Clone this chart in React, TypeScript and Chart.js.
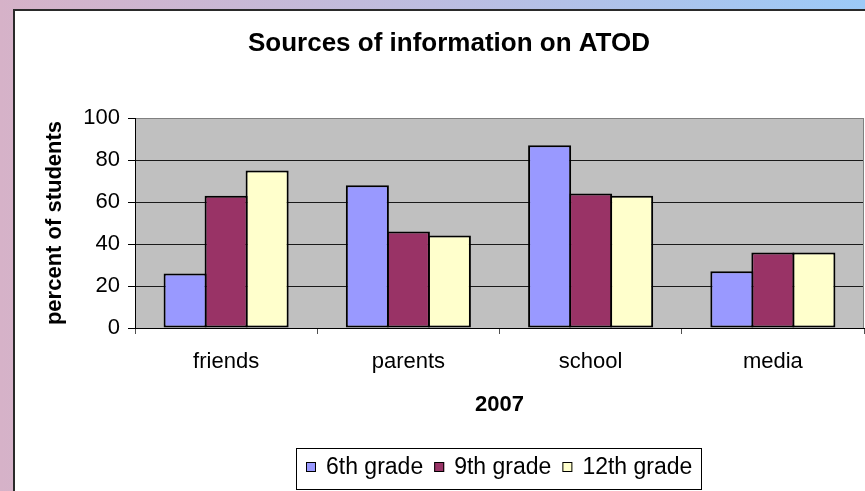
import React, { useEffect, useRef } from 'react';
import { Chart, registerables } from 'chart.js';

Chart.register(...registerables);

// Survey results: share of students naming each source of ATOD information
const categories = ['friends', 'parents', 'school', 'media'];
const grade6 = [26, 68, 87, 27];
const grade9 = [63, 46, 64, 36];
const grade12 = [75, 44, 63, 36];
const seriesLabels = ['6th grade', '9th grade', '12th grade'];
const seriesColors = ['#9999FF', '#993366', '#FFFFCC'];
const yTickStep = 20;
const yMax = 100;

const chartTitle = 'Sources of information on ATOD';
const yAxisTitle = 'percent of students';
const xAxisTitle = '2007';

const W = 865;
const H = 491;
const FONT = '"Liberation Sans", Arial, Helvetica, sans-serif';

// Slide backdrop, white chart frame, grey plot area, title and boxed legend
const framePlugin = {
  id: 'frame',
  beforeDraw(chart: any) {
    const { ctx, chartArea: a } = chart;
    ctx.save();
    const g = ctx.createLinearGradient(0, 0, W, 0);
    g.addColorStop(0, '#d6b2c8');
    g.addColorStop(0.5, '#bdbde0');
    g.addColorStop(1, '#9ccaf7');
    ctx.fillStyle = g;
    ctx.fillRect(0, 0, W, H);

    ctx.fillStyle = '#ffffff';
    ctx.fillRect(14, 10, W, H);
    ctx.strokeStyle = '#2a2a2a';
    ctx.lineWidth = 2;
    ctx.beginPath();
    ctx.moveTo(14, H + 5);
    ctx.lineTo(14, 10);
    ctx.lineTo(W + 5, 10);
    ctx.stroke();

    ctx.fillStyle = '#C0C0C0';
    ctx.fillRect(a.left, a.top, a.right - a.left, a.bottom - a.top);
    ctx.restore();
  },
  afterDraw(chart: any) {
    const { ctx, chartArea: a } = chart;
    ctx.save();

    // plot area right edge
    ctx.strokeStyle = '#808080';
    ctx.lineWidth = 1;
    ctx.beginPath();
    ctx.moveTo(a.right - 0.5, a.top);
    ctx.lineTo(a.right - 0.5, a.bottom);
    ctx.stroke();

    // chart title
    ctx.fillStyle = '#000';
    ctx.font = `bold 26px ${FONT}`;
    ctx.textAlign = 'center';
    ctx.textBaseline = 'middle';
    ctx.fillText(chartTitle, 449, 44);

    // legend
    const datasets = chart.data.datasets;
    ctx.font = `23px ${FONT}`;
    ctx.textAlign = 'left';
    const sq = 10;
    const gapText = 10;
    const gapItem = 11;
    const widths = datasets.map((d: any) => ctx.measureText(d.label).width);
    const total =
      widths.reduce((s: number, w: number) => s + w, 0) +
      datasets.length * (sq + gapText) +
      (datasets.length - 1) * gapItem;
    const cx = (a.left + a.right) / 2;
    let x = Math.round(cx - total / 2);
    const cy = 467;

    ctx.strokeStyle = '#000';
    ctx.lineWidth = 1;
    ctx.strokeRect(x - 9.5, 448.5, Math.round(total + 19), 41);

    datasets.forEach((d: any, i: number) => {
      ctx.fillStyle = d.backgroundColor;
      ctx.fillRect(x, cy - sq / 2, sq, sq);
      ctx.strokeStyle = '#000';
      ctx.strokeRect(x + 0.5, cy - sq / 2 + 0.5, sq - 1, sq - 1);
      ctx.fillStyle = '#000';
      ctx.fillText(d.label, x + sq + gapText, cy + 1);
      x += sq + gapText + widths[i] + gapItem;
    });
    ctx.restore();
  },
};

export default function App() {
  const ref = useRef<HTMLCanvasElement>(null);

  useEffect(() => {
    const series = [grade6, grade9, grade12];
    const chart = new Chart(ref.current as HTMLCanvasElement, {
      type: 'bar',
      data: {
        labels: categories,
        datasets: series.map((data, i) => ({
          label: seriesLabels[i],
          data,
          backgroundColor: seriesColors[i],
          borderColor: '#000',
          borderWidth: 2,
          borderSkipped: false,
          barPercentage: 1.05,
          categoryPercentage: 0.675,
        })),
      },
      options: {
        responsive: false,
        animation: false,
        layout: { padding: { top: 118, right: 1, left: 0, bottom: 0 } },
        plugins: {
          legend: { display: false },
          title: { display: false },
          tooltip: { enabled: false },
        },
        scales: {
          x: {
            grid: {
              display: true,
              drawOnChartArea: false,
              drawTicks: true,
              tickLength: 6,
              color: '#505050',
              offset: true,
            },
            border: { display: true, color: '#000', width: 1 },
            ticks: {
              font: { family: FONT, size: 22 },
              color: '#000',
              padding: 15,
              maxRotation: 0,
            },
            title: {
              display: true,
              text: xAxisTitle,
              font: { family: FONT, size: 22, weight: 'bold' },
              color: '#000',
              padding: { top: 0, bottom: 73 },
            },
            afterFit(scale: any) {
              scale.height = 163;
            },
          },
          y: {
            min: 0,
            max: yMax,
            ticks: {
              stepSize: yTickStep,
              font: { family: FONT, size: 22 },
              color: '#000',
              padding: 8,
            },
            grid: {
              color: (c: any) => (c.tick && c.tick.value === yMax ? '#808080' : '#1a1a1a'),
              tickColor: '#000',
              tickLength: 7,
              lineWidth: 1,
            },
            border: { display: true, color: '#000', width: 1 },
            title: {
              display: true,
              text: yAxisTitle,
              font: { family: FONT, size: 22, weight: 'bold' },
              color: '#000',
              padding: { top: 42, bottom: 0 },
            },
            afterFit(scale: any) {
              scale.width = 135;
            },
          },
        },
      } as any,
      plugins: [framePlugin],
    });
    return () => chart.destroy();
  }, []);

  return (
    <div style={{ position: 'absolute', left: 0, top: 0, width: W, height: H }}>
      <canvas ref={ref} width={W} height={H} style={{ display: 'block', width: W, height: H }} />
    </div>
  );
}
